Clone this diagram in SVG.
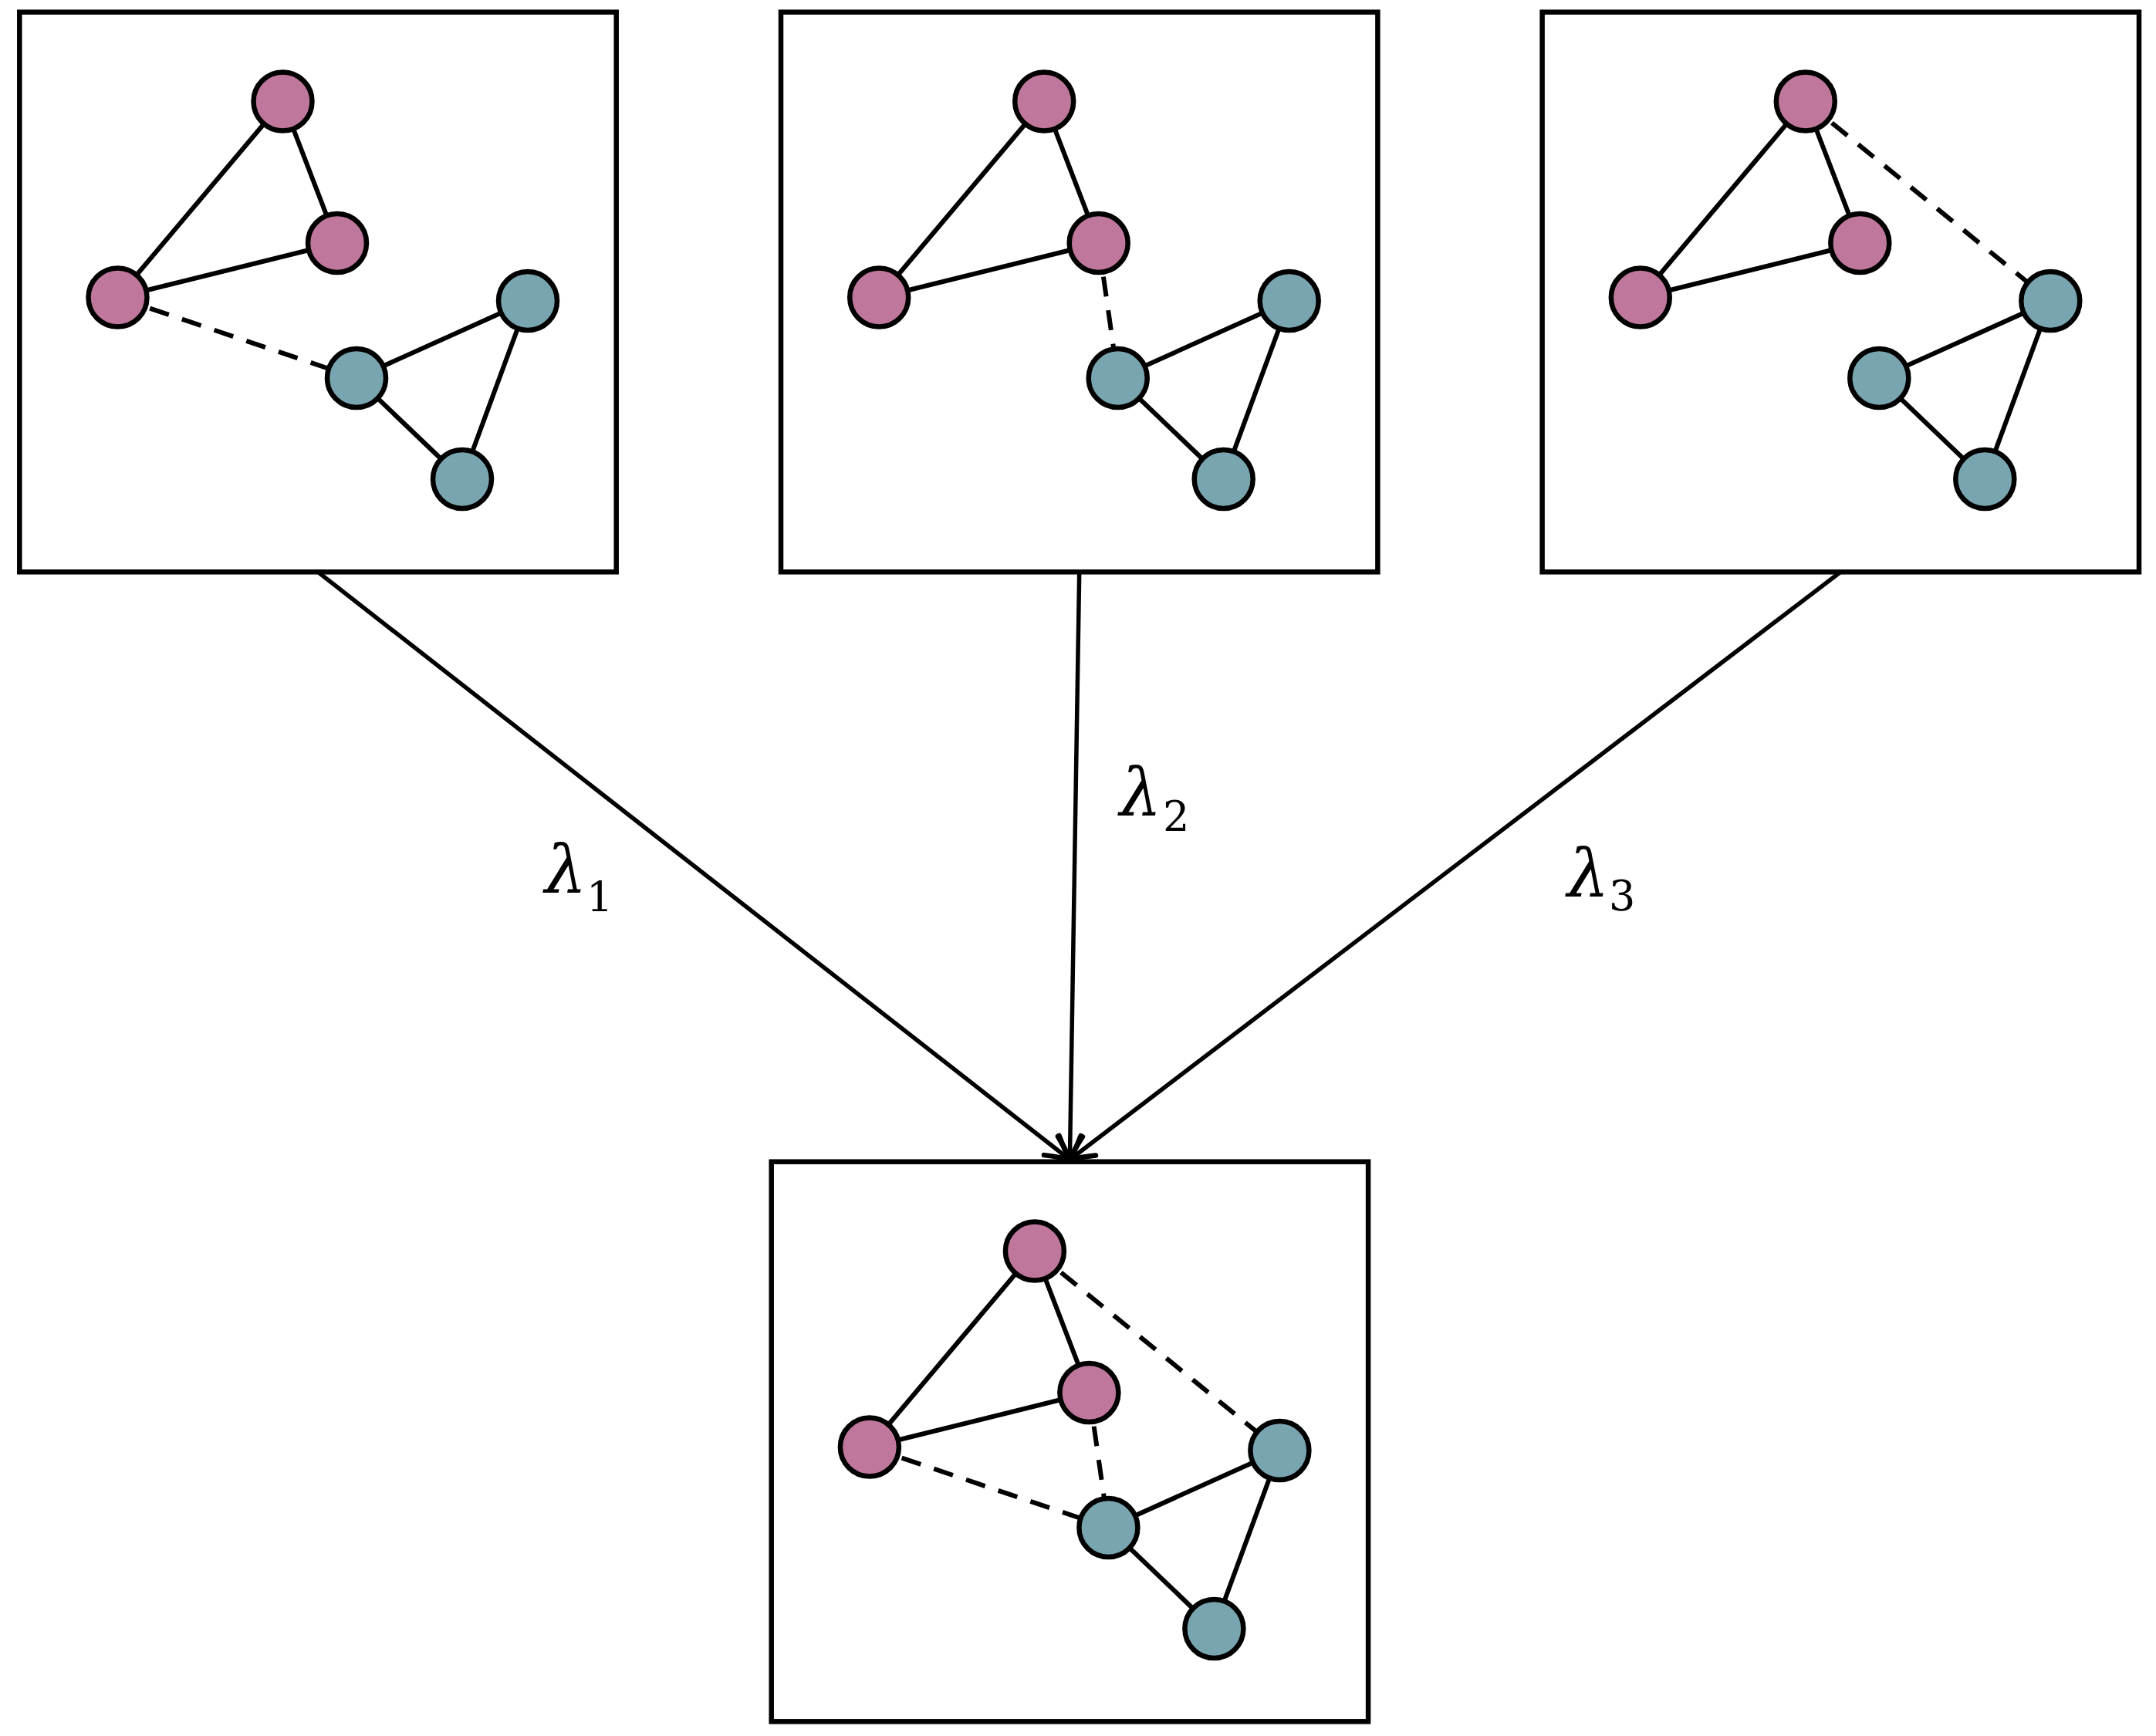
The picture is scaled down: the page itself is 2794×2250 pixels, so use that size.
<svg xmlns="http://www.w3.org/2000/svg" width="2794" height="2250" viewBox="0 0 2794 2250">
<style>
.box{fill:#fff;stroke:#000;stroke-width:6.5}
.e{stroke:#000;stroke-width:6;fill:none}
.d{stroke:#000;stroke-width:6;fill:none;stroke-dasharray:26 18}
.p{fill:#BF789B;stroke:#000;stroke-width:6.5}
.t{fill:#79A5B1;stroke:#000;stroke-width:6.5}
.conn{stroke:#000;stroke-width:5.5;fill:none}
.lam{font-family:"DejaVu Serif",serif;font-style:italic;font-size:86px;fill:#000}
.sub{font-family:"DejaVu Serif",serif;font-size:54px;fill:#000}
</style>
<defs>
<marker id="arr" markerUnits="userSpaceOnUse" markerWidth="80" markerHeight="80" refX="0" refY="0" orient="auto" overflow="visible">
<path d="M -30,-16 Q -12,-5 0,0 Q -12,5 -30,16" fill="none" stroke="#000" stroke-width="6.5" stroke-linecap="round" stroke-linejoin="round"/>
</marker>
<g id="solid">
<line class="e" x1="366.5" y1="131.5" x2="152.5" y2="385.5"/>
<line class="e" x1="366.5" y1="131.5" x2="437" y2="315"/>
<line class="e" x1="437" y1="315" x2="152.5" y2="385.5"/>
<line class="e" x1="462" y1="490" x2="684" y2="390"/>
<line class="e" x1="462" y1="490" x2="599" y2="621"/>
<line class="e" x1="684" y1="390" x2="599" y2="621"/>
</g>
<g id="dCE"><line class="d" x1="152.5" y1="385.5" x2="462" y2="490"/></g>
<g id="dBE"><line class="d" x1="437" y1="315" x2="462" y2="490"/></g>
<g id="dAD"><line class="d" x1="366.5" y1="131.5" x2="684" y2="390"/></g>
<g id="circles">
<circle class="p" cx="366.5" cy="131.5" r="38"/>
<circle class="p" cx="437" cy="315" r="38"/>
<circle class="p" cx="152.5" cy="385.5" r="38"/>
<circle class="t" cx="684" cy="390" r="38"/>
<circle class="t" cx="462" cy="490" r="38"/>
<circle class="t" cx="599" cy="621" r="38"/>
</g>
</defs>

<g id="connectors">
<line class="conn" x1="412" y1="741.3" x2="1386.4" y2="1503" marker-end="url(#arr)"/>
<line class="conn" x1="1398.7" y1="741.3" x2="1386.4" y2="1503" marker-end="url(#arr)"/>
<line class="conn" x1="2385.3" y1="741.3" x2="1386.4" y2="1503" marker-end="url(#arr)"/>
</g>

<g id="panel1">
<rect class="box" x="25.3" y="15.7" width="773.4" height="725.6"/>
<use href="#solid"/><use href="#dCE"/><use href="#circles"/>
</g>
<g id="panel2" transform="translate(986.7,0)">
<rect class="box" x="25.3" y="15.7" width="773.4" height="725.6"/>
<use href="#solid"/><use href="#dBE"/><use href="#circles"/>
</g>
<g id="panel3" transform="translate(1973.3,0)">
<rect class="box" x="25.3" y="15.7" width="773.4" height="725.6"/>
<use href="#solid"/><use href="#dAD"/><use href="#circles"/>
</g>
<g id="panel4" transform="translate(974.4,1490)">
<rect class="box" x="25.3" y="15.7" width="773.4" height="725.6"/>
<use href="#solid"/><use href="#dCE"/><use href="#dBE"/><use href="#dAD"/><use href="#circles"/>
</g>

<g id="labels">
<text class="lam" x="706" y="1157">λ</text><text class="sub" x="760" y="1182">1</text>
<text class="lam" x="1451" y="1057">λ</text><text class="sub" x="1507" y="1077">2</text>
<text class="lam" x="2031" y="1162">λ</text><text class="sub" x="2085" y="1180">3</text>
</g>
</svg>
